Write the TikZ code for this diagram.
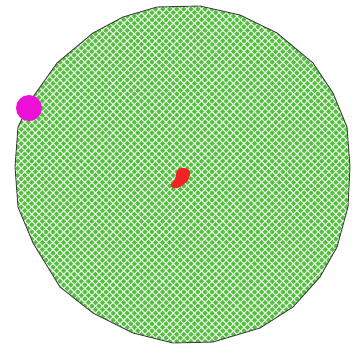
\documentclass[tikz,border=0pt]{standalone}
\usetikzlibrary{patterns.meta}
\definecolor{discgreen}{RGB}{84,190,62}
\definecolor{dotmag}{RGB}{236,16,214}
\definecolor{blobred}{RGB}{240,36,36}
\tikzset{
  disc/.style={draw=black!75,line width=0.9pt,fill=discgreen},
  hatch/.style={pattern={Lines[angle=#1,distance=5pt,line width=1.1pt]},pattern color=white!85!discgreen}
}
\begin{document}
\begin{tikzpicture}[x=1pt,y=-1pt]
\useasboundingbox (0,0) rectangle (352,345);
\def\outline{(157,7) -- (200,6) -- (240,15) -- (277,33) -- (313,63) -- (333,93) -- (347,127) -- (350,167) -- (348,207) -- (337,247) -- (320,277) -- (293,307) -- (260,328) -- (213,342) -- (173,343) -- (133,333) -- (93,313) -- (60,287) -- (33,243) -- (18,207) -- (15,167) -- (18,127) -- (33,97) -- (57,63) -- (93,33) -- (123,17) -- cycle}
\fill[discgreen] \outline;
\fill[hatch=45] \outline;
\fill[hatch=-45] \outline;
\draw[disc,fill=none] \outline;
\fill[blobred] (182,168) .. controls (186,168) and (190,169) .. (190,173)
  .. controls (190,178) and (188,181) .. (184,184)
  .. controls (181,187) and (177,189) .. (173,188)
  .. controls (170,187) and (170,184) .. (173,182)
  .. controls (175,180) and (176,178) .. (176,175)
  .. controls (176,171) and (178,168) .. (182,168) -- cycle;
\node[circle,fill=dotmag,minimum size=26pt,inner sep=0pt] (dot) at (29,108) {};
\end{tikzpicture}
\end{document}
